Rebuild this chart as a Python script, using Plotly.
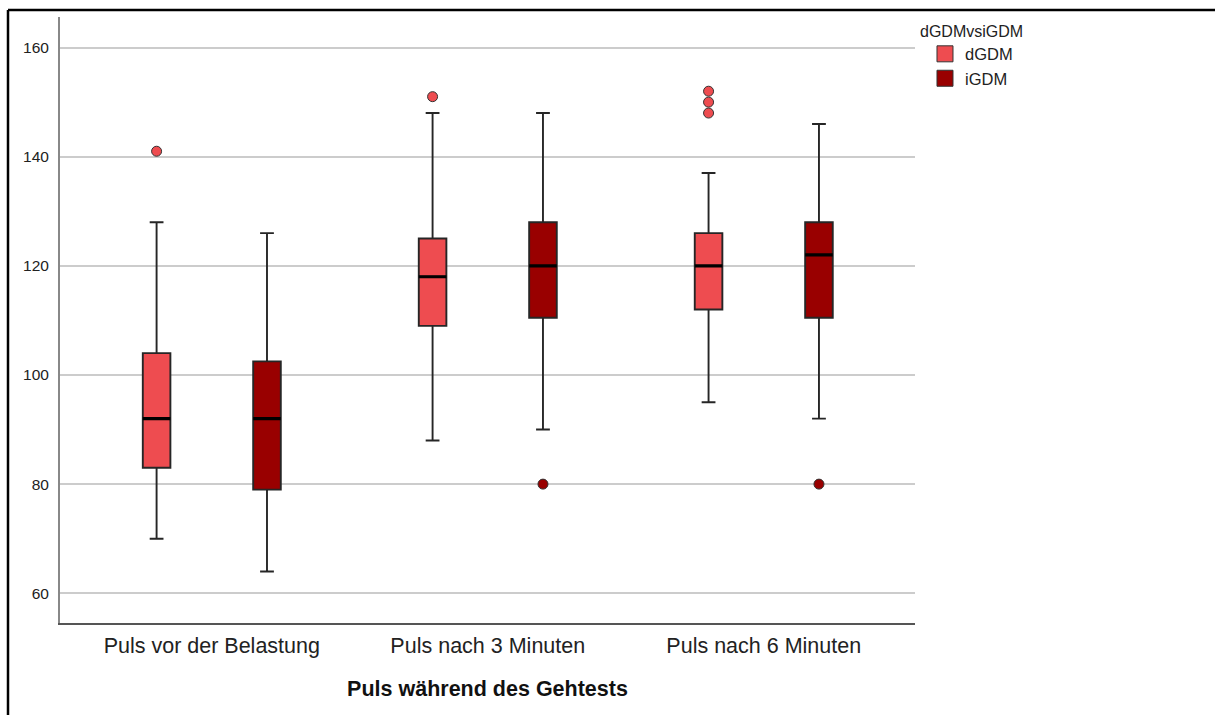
import plotly.graph_objects as go

categories = ["Puls vor der Belastung", "Puls nach 3 Minuten", "Puls nach 6 Minuten"]
groups = ["dGDM", "iGDM"]
colors = {"dGDM": "#EE4C50", "iGDM": "#990000"}

# box statistics per group (one value per category)
d_low = [70, 88, 95]
d_q1 = [83, 109, 112]
d_med = [92, 118, 120]
d_q3 = [104, 125, 126]
d_up = [128, 148, 137]
d_out = [[141], [151], [148, 150, 152]]

i_low = [64, 90, 92]
i_q1 = [79, 110.5, 110.5]
i_med = [92, 120, 122]
i_q3 = [102.5, 128, 128]
i_up = [126, 148, 146]
i_out = [[], [80], [80]]

y_ticks = [60, 80, 100, 120, 140, 160]

stats = {
    "dGDM": (d_low, d_q1, d_med, d_q3, d_up, d_out),
    "iGDM": (i_low, i_q1, i_med, i_q3, i_up, i_out),
}
offsets = {"dGDM": -0.2, "iGDM": 0.2}
BOXW = 0.1
FONT = "Liberation Sans, Arial, sans-serif"

fig = go.Figure()
for g in groups:
    low, q1, med, q3, up, out = stats[g]
    xs = [k + offsets[g] for k in range(len(categories))]
    fig.add_trace(go.Box(
        x=xs, q1=q1, median=med, q3=q3, lowerfence=low, upperfence=up,
        width=BOXW, fillcolor=colors[g], line=dict(color="#262626", width=1.9),
        whiskerwidth=0.5, boxpoints=False, showlegend=False, hoverinfo="skip",
    ))
    # thick median line drawn as a flat box at the median
    fig.add_trace(go.Box(
        x=xs, q1=med, median=med, q3=med, lowerfence=med, upperfence=med,
        width=BOXW, fillcolor="rgba(0,0,0,0)", line=dict(color="#000000", width=3.2),
        whiskerwidth=0, boxpoints=False, showlegend=False, hoverinfo="skip",
    ))
    ox, oy = [], []
    for k, vals in enumerate(out):
        for v in vals:
            ox.append(k + offsets[g])
            oy.append(v)
    fig.add_trace(go.Scatter(
        x=ox, y=oy, mode="markers", showlegend=False, hoverinfo="skip",
        marker=dict(size=10, color=colors[g], line=dict(color="#333333", width=1)),
    ))

# legend entries
for g in groups:
    fig.add_trace(go.Scatter(
        x=[None], y=[None], mode="markers", name=g,
        marker=dict(symbol="square", size=16, color=colors[g],
                    line=dict(color="#333333", width=1)),
    ))

fig.update_layout(
    width=1215, height=715,
    margin=dict(l=60, r=300, t=17, b=92),
    paper_bgcolor="white", plot_bgcolor="white",
    font=dict(family=FONT, color="#111111"),
    boxmode="overlay",
    showlegend=True,
    legend=dict(
        x=1.0035, y=1.002, xanchor="left", yanchor="top",
        title=dict(text="dGDMvsiGDM", font=dict(size=16, family=FONT, color="#222222")),
        font=dict(size=16.5, family=FONT, color="#222222"),
        indentation=7,
        tracegroupgap=0,
        bgcolor="rgba(0,0,0,0)",
    ),
    xaxis=dict(
        range=[-0.55, 2.548], tickmode="array",
        tickvals=list(range(len(categories))), ticktext=categories,
        showgrid=False, zeroline=False,
        showline=True, linecolor="#555555", linewidth=2,
        ticks="", ticklabelstandoff=2,
        tickfont=dict(size=21.5, family=FONT, color="#222222"),
        title=dict(text="<b>Puls während des Gehtests</b>", standoff=24,
                   font=dict(size=21.5, family=FONT, color="#111111")),
    ),
    yaxis=dict(
        range=[54.55, 165.6], tickmode="array", tickvals=y_ticks,
        showgrid=True, gridcolor="#CCCCCC", gridwidth=2,
        zeroline=False, showline=True, linecolor="#888888", linewidth=2,
        ticks="", ticklabelstandoff=6,
        tickfont=dict(size=15.5, family=FONT, color="#222222"),
    ),
    shapes=[
        dict(type="line", xref="paper", yref="paper",
             x0=(8 - 60) / 855, x1=(1220 - 60) / 855,
             y0=1 + (17 - 10) / 606, y1=1 + (17 - 10) / 606,
             line=dict(color="#000000", width=2.5)),
        dict(type="line", xref="paper", yref="paper",
             x0=(8 - 60) / 855, x1=(8 - 60) / 855,
             y0=1 + (17 - 10) / 606, y1=-0.2,
             line=dict(color="#000000", width=2.5)),
    ],
)

fig.write_html("out.html", config={"displayModeBar": False},
               post_script="document.body.style.margin='0';document.body.style.overflow='hidden';")
